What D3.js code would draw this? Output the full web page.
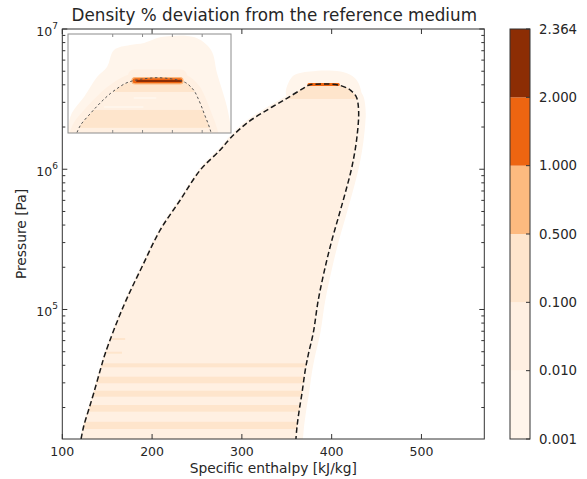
<!DOCTYPE html>
<html>
<head>
<meta charset="utf-8">
<script src="https://cdn.jsdelivr.net/npm/d3@7/dist/d3.min.js"></script>
<style>
  html, body { margin: 0; padding: 0; background: #fff; }
  svg { display: block; font-family: "DejaVu Sans", sans-serif; }
</style>
</head>
<body>
<svg id="chart" width="587" height="479"></svg>
<script>
// ---------------- data ----------------
// Saturated liquid line: enthalpy [kJ/kg] and pressure [Pa], up to the critical point
const satLiquidH = [120.9, 123.7, 129.3, 134.9, 142.3, 147.9, 167.9, 188.8, 209.1, 231.4, 253.7, 275.9, 287.1, 305.7, 328.0, 350.2, 368.4, 375.0, 382.0, 390.0];
const satLiquidP = [11930, 14600, 19200, 25200, 37000, 48800, 104700, 201800, 369000, 604000, 988000, 1372000, 1663000, 2137000, 2644000, 3205000, 3777000, 3990000, 4045000, 4059000];
// Saturated vapour line: from the critical point downwards
const satVaporH = [399.0, 408.0, 417.0, 421.0, 427.4, 430.0, 428.2, 422.6, 415.1, 407.7, 400.3, 392.9, 385.1, 379.5, 374.3, 370.6, 366.9, 363.9, 361.4, 360.2];
const satVaporP = [4045000, 3980000, 3800000, 3660000, 3289000, 2644000, 1706000, 1042000, 677000, 459000, 313000, 201800, 116900, 68000, 48800, 37000, 25200, 19200, 14600, 11930];

// Deviation [%] of the regions of the field
const fringeDeviation = 0.005;   // thin rim just outside the dome
const domeDeviation = 0.05;      // bulk of the two-phase region
// scattered points above the critical point
const haloH = [350, 356, 365, 376, 393, 410, 423, 430, 435, 436];
const haloP = [3300000, 4570000, 4850000, 4970000, 5060000, 4970000, 4620000, 4100000, 2970000, 2240000];
// horizontal bands (pressure ranges) inside the dome
const bandPLow  = [3170000, 38710, 29770, 23890, 18680, 14060];
const bandPHigh = [4300000, 41330, 33180, 26360, 20850, 15830];
const bandDev   = [0.2, 0.2, 0.2, 0.2, 0.2, 0.2];
// short streaks on the liquid side
const streakP = [61600, 49200];
const streakHEnd = [170, 166.5];
const streakDev = [0.2, 0.2];
// critical peak
const peakH = [373, 409];
const peakP = 4020000;
const peakDev = 1.5;

// Inset: near-critical region
const insetDomeH = [292.5, 293.8, 297.8, 307.8, 314.5, 321.2, 328.0, 336.3, 343.0, 349.7, 358.1, 366.5, 374.8, 383.3, 391.6, 398.4, 403.4, 408.4, 412.5, 415.8, 419.1, 422.5, 425.8, 428.6, 429.5];
const insetDomeP = [1700000, 1816000, 2075000, 2506000, 2818000, 3140000, 3459000, 3810000, 4064000, 4217000, 4335000, 4406000, 4447000, 4406000, 4335000, 4236000, 4102000, 3846000, 3548000, 3190000, 2818000, 2438000, 2133000, 1862000, 1700000];
const insetCloudH = [285, 285, 289, 301.1, 314.2, 324.2, 331.3, 347.4, 361.5, 378.6, 411.8, 428.9, 434.9, 445, 449, 449];
const insetCloudP = [1700000, 1980000, 2520000, 3260000, 4500000, 5280000, 6950000, 7530000, 7780000, 8560000, 8560000, 6950000, 4800000, 2770000, 1910000, 1700000];
const insetBandPLow  = [1977000, 3530000];
const insetBandPHigh = [2640000, 4600000];
const insetBandDev   = [0.2, 0.2];
const insetStreakP = [3200000, 2770000];
const insetStreakH0 = [351, 321];
const insetStreakH1 = [374, 361];
const insetStreakDev = [0.005, 0.005];
const insetPeakH = [349.4, 400.7];
const insetPeakP = [4020000, 4450000];
const insetPeakDev = 1.5;
const insetCoreH = [353.4, 399.7];
const insetCoreP = [4150000, 4290000];
const insetCoreDev = 2.3;
const insetHTicks = [330, 360, 390, 420];

// Axis ticks and colour levels
const hTicks = [100, 200, 300, 400, 500];
const pMajor = [1e5, 1e6, 1e7];
const levels = [0.001, 0.01, 0.1, 0.5, 1, 2, 2.364];

// ---------------- scales ----------------
const svg = d3.select("#chart");
const X0 = 62.3, X1 = 484.3, Y0 = 29, Y1 = 439;
const x = d3.scaleLinear().domain([100, 570]).range([X0, X1]);
const y = d3.scaleLog().domain([11930, 1e7]).range([Y1, Y0]);
const color = d3.scaleThreshold()
  .domain(levels.slice(1, -1))
  .range(["#fff5eb", "#fff0e2", "#fee5cc", "#fdba7f", "#ee6511", "#8c2d04"]);

const txt = "#262626", axc = "#333";

const liquid = satLiquidH.map((h, i) => ({h, p: satLiquidP[i]}));
const vapor = satVaporH.map((h, i) => ({h, p: satVaporP[i]}));
const dome = liquid.concat(vapor);
const domeLine = d3.line().x(d => x(d.h)).y(d => y(d.p)).curve(d3.curveCatmullRom.alpha(0.5));

const defs = svg.append("defs");
defs.append("clipPath").attr("id", "plotClip")
  .append("rect").attr("x", X0).attr("y", Y0).attr("width", X1 - X0).attr("height", Y1 - Y0);
defs.append("clipPath").attr("id", "domeClip")
  .append("path").attr("d", domeLine(dome) + "Z");

// ---------------- main field ----------------
const g = svg.append("g").attr("clip-path", "url(#plotClip)");

// rim outside the saturation line (wider on the vapour side)
g.append("path").attr("d", domeLine(dome))
  .attr("fill", "none").attr("stroke", color(fringeDeviation))
  .attr("stroke-width", 8).attr("stroke-linejoin", "round")
  .attr("transform", "translate(3,0)");
g.append("path")
  .attr("d", d3.line().x(d => x(d.h)).y(d => y(d.p)).curve(d3.curveCatmullRomClosed)(haloH.map((h, i) => ({h, p: haloP[i]}))))
  .attr("fill", color(fringeDeviation));

g.append("path").attr("d", domeLine(dome) + "Z").attr("fill", color(domeDeviation));

const inner = g.append("g").attr("clip-path", "url(#domeClip)");
inner.selectAll("rect.band").data(bandPLow).join("rect").attr("class", "band")
  .attr("x", X0).attr("width", X1 - X0)
  .attr("y", (d, i) => y(bandPHigh[i]))
  .attr("height", (d, i) => y(bandPLow[i]) - y(bandPHigh[i]))
  .attr("fill", (d, i) => color(bandDev[i]));
inner.selectAll("rect.streak").data(streakP).join("rect").attr("class", "streak")
  .attr("x", X0).attr("width", (d, i) => x(streakHEnd[i]) - X0)
  .attr("y", d => y(d) - 1).attr("height", 2)
  .attr("fill", (d, i) => color(streakDev[i]));

g.append("rect")
  .attr("x", x(peakH[0])).attr("width", x(peakH[1]) - x(peakH[0]))
  .attr("y", y(peakP) - 1.5).attr("height", 3).attr("rx", 1.5)
  .attr("fill", color(peakDev));

g.append("path").attr("d", domeLine(dome))
  .attr("fill", "none").attr("stroke", "#1a1a1a").attr("stroke-width", 1.5)
  .attr("stroke-dasharray", "5.5,3");

// ---------------- main axes ----------------
const ax = svg.append("g").attr("stroke", axc).attr("stroke-width", 1);
hTicks.forEach(v => {
  ax.append("line").attr("x1", x(v)).attr("x2", x(v)).attr("y1", Y1).attr("y2", Y1 - 5);
  ax.append("line").attr("x1", x(v)).attr("x2", x(v)).attr("y1", Y0).attr("y2", Y0 + 5);
});
y.ticks().forEach(v => {
  const major = pMajor.includes(v);
  const len = major ? 5 : 3;
  ax.append("line").attr("x1", X0).attr("x2", X0 + len).attr("y1", y(v)).attr("y2", y(v));
  ax.append("line").attr("x1", X1).attr("x2", X1 - len).attr("y1", y(v)).attr("y2", y(v));
});
ax.append("rect").attr("x", X0).attr("y", Y0).attr("width", X1 - X0).attr("height", Y1 - Y0)
  .attr("fill", "none");

svg.append("g").selectAll("text").data(hTicks).join("text")
  .attr("x", d => x(d)).attr("y", 456).attr("text-anchor", "middle")
  .attr("font-size", 12.5).attr("fill", txt).text(d => d);

const yl = svg.append("g").selectAll("text").data(pMajor).join("text")
  .attr("x", 58).attr("y", d => y(d) + 7).attr("text-anchor", "end").attr("fill", txt);
yl.append("tspan").attr("font-size", 12.5).text("10");
yl.append("tspan").attr("font-size", 9).attr("dy", -7.5).text(d => Math.round(Math.log10(d)));

svg.append("text").attr("x", (X0 + X1) / 2).attr("y", 473).attr("text-anchor", "middle")
  .attr("font-size", 13.8).attr("fill", txt).text("Specific enthalpy [kJ/kg]");
svg.append("text").attr("transform", `translate(25.5,${(Y0 + Y1) / 2}) rotate(-90)`)
  .attr("text-anchor", "middle").attr("font-size", 13.8).attr("fill", txt).text("Pressure [Pa]");
svg.append("text").attr("x", (X0 + X1) / 2 + 1).attr("y", 21).attr("text-anchor", "middle")
  .attr("font-size", 16.8).attr("fill", txt).text("Density % deviation from the reference medium");

// ---------------- inset ----------------
const IX0 = 68, IX1 = 231, IY0 = 34, IY1 = 133;
const ix = d3.scaleLinear().domain([285, 449]).range([IX0, IX1]);
const iy = d3.scaleLog().domain([1820000, 9000000]).range([IY1, IY0]);
const iLine = d3.line().x(d => ix(d.h)).y(d => iy(d.p)).curve(d3.curveCatmullRom.alpha(0.5));
const iDome = insetDomeH.map((h, i) => ({h, p: insetDomeP[i]}));
const iCloud = insetCloudH.map((h, i) => ({h, p: insetCloudP[i]}));

defs.append("clipPath").attr("id", "insetClip")
  .append("rect").attr("x", IX0).attr("y", IY0).attr("width", IX1 - IX0).attr("height", IY1 - IY0);
defs.append("clipPath").attr("id", "insetDomeClip")
  .append("path").attr("d", iLine(iDome) + "Z");

svg.append("rect").attr("x", IX0).attr("y", IY0).attr("width", IX1 - IX0).attr("height", IY1 - IY0)
  .attr("fill", "#fff");
const ig = svg.append("g").attr("clip-path", "url(#insetClip)");
ig.append("path").attr("d", d3.line().x(d => ix(d.h)).y(d => iy(d.p)).curve(d3.curveCatmullRomClosed)(iCloud))
  .attr("fill", color(fringeDeviation));
ig.append("path").attr("d", iLine(iDome))
  .attr("fill", "none").attr("stroke", color(domeDeviation)).attr("stroke-width", 14)
  .attr("stroke-linejoin", "round");
ig.append("rect")
  .attr("x", ix(insetPeakH[0]) - 4).attr("width", ix(insetPeakH[1]) - ix(insetPeakH[0]) + 8)
  .attr("y", iy(insetPeakP[1]) - 8).attr("height", iy(insetPeakP[0]) - iy(insetPeakP[1]) + 12)
  .attr("rx", 6).attr("fill", color(domeDeviation));
ig.append("path").attr("d", iLine(iDome) + "Z").attr("fill", color(domeDeviation));
const iin = ig.append("g").attr("clip-path", "url(#insetDomeClip)");
iin.selectAll("rect.band").data(insetBandPLow).join("rect").attr("class", "band")
  .attr("x", IX0).attr("width", IX1 - IX0)
  .attr("y", (d, i) => iy(insetBandPHigh[i]))
  .attr("height", (d, i) => iy(insetBandPLow[i]) - iy(insetBandPHigh[i]))
  .attr("fill", (d, i) => color(insetBandDev[i]));
iin.selectAll("rect.streak").data(insetStreakP).join("rect").attr("class", "streak")
  .attr("x", (d, i) => ix(insetStreakH0[i]))
  .attr("width", (d, i) => ix(insetStreakH1[i]) - ix(insetStreakH0[i]))
  .attr("y", d => iy(d) - 1).attr("height", 2).attr("rx", 1)
  .attr("fill", (d, i) => color(insetStreakDev[i]));
ig.append("rect")
  .attr("x", ix(insetPeakH[0])).attr("width", ix(insetPeakH[1]) - ix(insetPeakH[0]))
  .attr("y", iy(insetPeakP[1])).attr("height", iy(insetPeakP[0]) - iy(insetPeakP[1]))
  .attr("rx", 3).attr("fill", color(insetPeakDev))
  .attr("stroke", color(0.7)).attr("stroke-width", 1.2);
ig.append("rect")
  .attr("x", ix(insetCoreH[0])).attr("width", ix(insetCoreH[1]) - ix(insetCoreH[0]))
  .attr("y", iy(insetCoreP[1])).attr("height", iy(insetCoreP[0]) - iy(insetCoreP[1]))
  .attr("rx", 1).attr("fill", color(insetCoreDev));
ig.append("path").attr("d", iLine(iDome))
  .attr("fill", "none").attr("stroke", "#555").attr("stroke-width", 1)
  .attr("stroke-dasharray", "2.5,2.5");
insetHTicks.forEach(v => {
  ig.append("line").attr("x1", ix(v)).attr("x2", ix(v)).attr("y1", IY0).attr("y2", IY0 + 3)
    .attr("stroke", "#888");
  ig.append("line").attr("x1", ix(v)).attr("x2", ix(v)).attr("y1", IY1).attr("y2", IY1 - 3)
    .attr("stroke", "#888");
});
svg.append("rect").attr("x", IX0).attr("y", IY0).attr("width", IX1 - IX0).attr("height", IY1 - IY0)
  .attr("fill", "none").attr("stroke", "#8c8c8c").attr("stroke-width", 1);

// ---------------- colour bar ----------------
const CB0 = 510, CB1 = 530;
const cy = d3.scalePoint().domain(levels).range([Y1, Y0]);
const cb = svg.append("g");
cb.selectAll("rect.lvl").data(levels.slice(0, -1)).join("rect").attr("class", "lvl")
  .attr("x", CB0).attr("width", CB1 - CB0)
  .attr("y", (d, i) => cy(levels[i + 1]))
  .attr("height", (d, i) => cy(d) - cy(levels[i + 1]))
  .attr("fill", (d, i) => color((d + levels[i + 1]) / 2));
cb.selectAll("line").data(levels).join("line")
  .attr("x1", CB1).attr("x2", CB1 - 4).attr("y1", d => cy(d)).attr("y2", d => cy(d))
  .attr("stroke", axc);
cb.append("rect").attr("x", CB0).attr("y", Y0).attr("width", CB1 - CB0).attr("height", Y1 - Y0)
  .attr("fill", "none").attr("stroke", axc).attr("stroke-width", 1);
cb.selectAll("text").data(levels).join("text")
  .attr("x", 539).attr("y", d => cy(d)).attr("dy", "0.36em")
  .attr("font-size", 13.3).attr("fill", txt).text(d => d3.format(".3f")(d));
</script>
</body>
</html>
